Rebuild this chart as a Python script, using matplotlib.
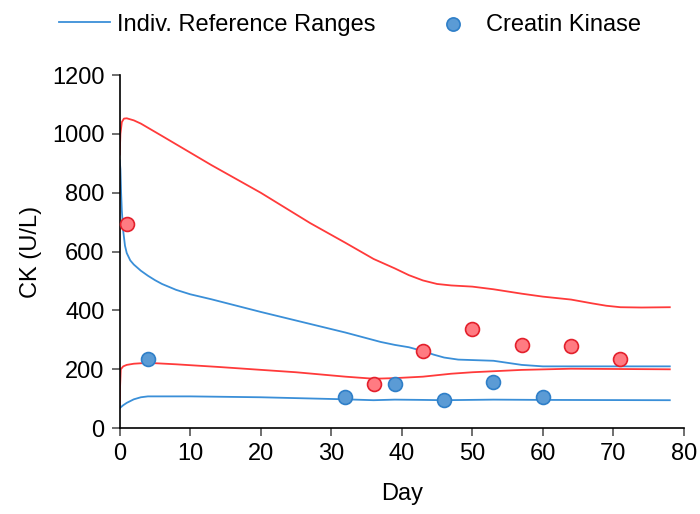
import numpy as np
import matplotlib.pyplot as plt

plt.rcParams['font.family'] = ['Liberation Sans', 'DejaVu Sans']

# measured CK values
red_days = [1, 36, 43, 50, 57, 64, 71]
red_ck = [695, 150, 262, 338, 282, 278, 235]
blue_days = [4, 32, 39, 46, 53, 60]
blue_ck = [235, 105, 150, 97, 157, 107]

# individual reference range limits
red_hi_x = [0, 0.1, 0.3, 0.6, 1, 2, 3, 6, 13, 20, 27, 32, 36, 39, 41, 43, 45, 47, 50, 53, 57, 60, 64, 67, 69, 71, 74, 78]
red_hi_y = [930, 1000, 1040, 1052, 1053, 1046, 1035, 993, 894, 800, 697, 630, 575, 543, 520, 502, 490, 485, 481, 472, 457, 447, 437, 424, 416, 411, 410, 411]
red_lo_x = [0, 0.05, 0.15, 0.5, 1, 2, 4, 8, 14, 25, 32, 36, 39, 43, 47, 50, 57, 64, 78]
red_lo_y = [70, 140, 200, 210, 215, 219, 222, 217, 208, 190, 175, 168, 170, 175, 185, 190, 198, 202, 200]
blue_hi_x = [0, 0.1, 0.2, 0.3, 0.5, 0.75, 1, 1.5, 2, 3, 4, 5, 6, 8, 10, 13, 20, 32, 37, 39, 41, 43, 44.5, 46, 48, 53, 55, 57, 60, 78]
blue_hi_y = [910, 880, 800, 740, 670, 620, 595, 570, 556, 535, 518, 503, 490, 470, 455, 438, 395, 325, 293, 283, 275, 262, 250, 240, 233, 229, 222, 215, 210, 210]
blue_lo_x = [0, 0.5, 1, 2, 3, 4, 10, 20, 32, 36, 39, 43, 46, 53, 60, 78]
blue_lo_y = [68, 78, 86, 98, 105, 108, 108, 105, 98, 95, 97, 96, 95, 97, 96, 95]

red_line = '#ff3a3a'
blue_line = '#3a8fd8'

fig = plt.figure(figsize=(7, 5.14), dpi=100)
ax = fig.add_axes([0.171, 0.167, 0.806, 0.687])

ax.plot(red_hi_x, red_hi_y, color=red_line, lw=1.3, zorder=2)
ax.plot(red_lo_x, red_lo_y, color=red_line, lw=1.3, zorder=2)
ax.plot(blue_hi_x, blue_hi_y, color=blue_line, lw=1.3, zorder=2, label='Indiv. Reference Ranges')
ax.plot(blue_lo_x, blue_lo_y, color=blue_line, lw=1.3, zorder=2)

ax.scatter(red_days, red_ck, s=100, color='#ff7b82', edgecolor='#e3202c', linewidth=1.2, zorder=3, clip_on=False)
ax.scatter(blue_days, blue_ck, s=100, color='#5b9bd5', edgecolor='#2f7fc8', linewidth=1.2, zorder=3,
           label='Creatin Kinase', clip_on=False)

ax.set_xlim(0, 80)
ax.set_ylim(0, 1200)
ax.set_xticks(range(0, 81, 10))
ax.set_yticks(range(0, 1201, 200))
ax.set_xlabel('Day', fontsize=17, labelpad=13)
ax.set_ylabel('CK (U/L)', fontsize=17, labelpad=7)
ax.tick_params(labelsize=17, length=6, width=1.2, color='#555555', direction='out', pad=5)
for s in ['top', 'right']:
    ax.spines[s].set_visible(False)
for s in ['left', 'bottom']:
    ax.spines[s].set_linewidth(1.2)

h, l = ax.get_legend_handles_labels()
fig.legend(h, l, loc='upper center', bbox_to_anchor=(0.5, 1.015), ncol=2, frameon=False,
           fontsize=17, columnspacing=2.2, handlelength=2.16, handletextpad=0.3, markerscale=0.95)

fig.savefig('out.png', dpi=100)
